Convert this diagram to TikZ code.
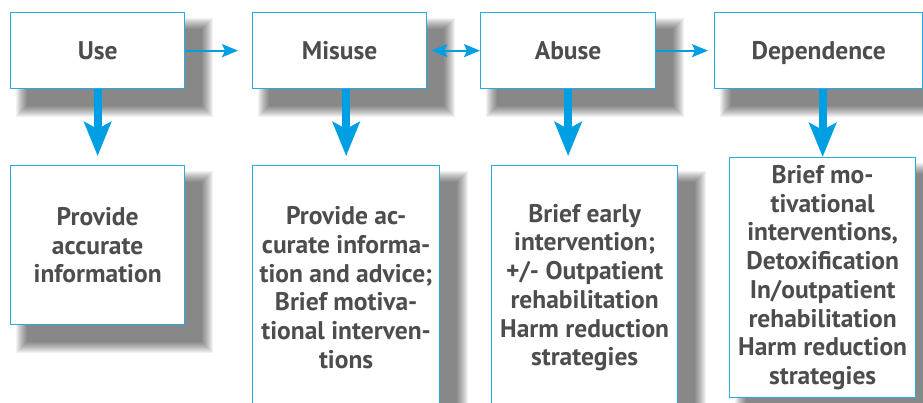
\documentclass[tikz,border=0pt]{standalone}
\usepackage{fontspec}
\setmainfont{PT Sans}
\usetikzlibrary{arrows.meta}
\definecolor{cblue}{HTML}{009FE3}
\definecolor{cline}{HTML}{29ABE2}
\definecolor{ctext}{HTML}{4D4D4D}
\pgfdeclarelayer{shadowlayer}
\pgfsetlayers{shadowlayer,main}
\newcommand\softshadow[1]{%
  \begin{pgfonlayer}{shadowlayer}
  \foreach \r in {0,1,...,11}{%
    \fill[black, opacity=0.05] ([xshift=17pt-\r pt, yshift=-17pt+\r pt]#1.north west) rectangle ([xshift=17pt+\r pt, yshift=-17pt-\r pt]#1.south east);}
  \end{pgfonlayer}}
\begin{document}
\begin{tikzpicture}[x=1pt,y=-1pt,
  box/.style={draw=cline, line width=1.3pt, fill=white, inner sep=0pt, anchor=north west,
    align=center, text=ctext, font=\fontsize{25.5}{28.7}\selectfont\bfseries},
  topbox/.style={box, minimum height=76pt, text height=18pt, text depth=0pt},
  harr/.style={draw=cblue, line width=2pt, -{Stealth[length=16pt,width=13pt,inset=3pt]}},
  darr/.style={draw=cblue, line width=8pt, -{Stealth[length=34pt,width=27pt,inset=7pt]}}]
\useasboundingbox (0,0) rectangle (923,403);
\clip (0,0) rectangle (923,403);
% top row
\node[topbox, minimum width=174pt] (use) at (10,12) {Use};
\node[topbox, minimum width=174pt] (mis) at (252,12) {Misuse};
\node[topbox, minimum width=175pt] (abu) at (480,12) {Abuse};
\node[topbox, minimum width=208pt] (dep) at (714,12) {Dependence};
% bottom row
\node[box, minimum width=174pt, minimum height=159pt] (useb) at (10,165) {Provide\\accurate\\information};
\node[box, minimum width=187pt, minimum height=244pt] (misb) at (252,165) {Provide ac-\\curate informa-\\tion and advice;\\Brief motiva-\\tional interven-\\tions};
\node[box, minimum width=186pt, minimum height=244pt] (abub) at (491,165) {Brief early\\intervention;\\+/- Outpatient\\rehabilitation\\Harm reduction\\strategies};
\node[box, minimum width=186pt, minimum height=240pt] (depb) at (729,157) {Brief mo-\\tivational\\interventions,\\Detoxification\\In/outpatient\\rehabilitation\\Harm reduction\\strategies};
\softshadow{use}\softshadow{mis}\softshadow{abu}\softshadow{dep}
\softshadow{useb}\softshadow{misb}\softshadow{abub}\softshadow{depb}
% horizontal connectors
\draw[harr, shorten >=14pt] (use.east) -- (mis.west);
\draw[harr, {Stealth[length=16pt,width=13pt,inset=3pt]}-{Stealth[length=16pt,width=13pt,inset=3pt]}, shorten <=4pt] (mis.east) -- (abu.west);
\draw[harr, shorten >=6pt] (abu.east) -- (dep.west);
% vertical connectors
\draw[darr, shorten >=9pt] (use.south) -- (useb.north);
\draw[darr, shorten >=9pt] (misb.north |- mis.south) -- (misb.north);
\draw[darr, shorten >=9pt] (abu.south) -- (abu.south |- abub.north);
\draw[darr] (depb.north |- dep.south) -- (depb.north);
\end{tikzpicture}
\end{document}
